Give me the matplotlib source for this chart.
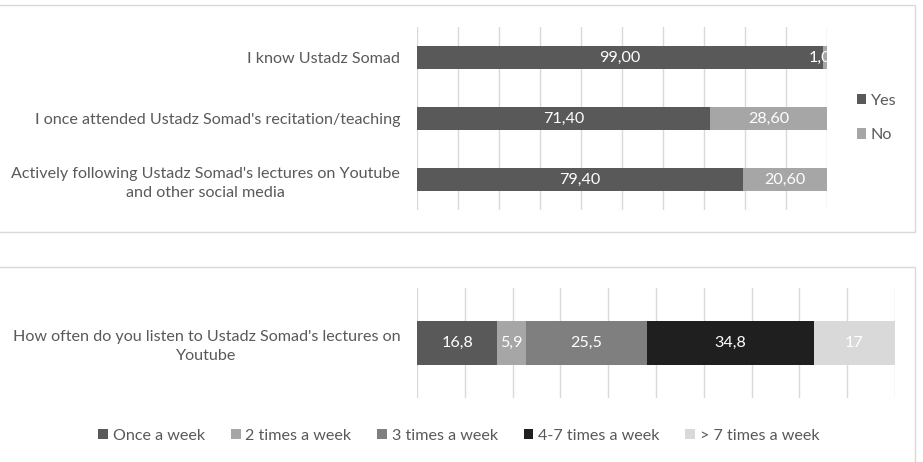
import matplotlib.pyplot as plt
from matplotlib.patches import Rectangle

# ---- data ----
top_questions = ["I know Ustadz Somad",
                 "I once attended Ustadz Somad's recitation/teaching",
                 "Actively following Ustadz Somad's lectures on Youtube\nand other social media"]
yes_values = [99.00, 71.40, 79.40]
no_values = [1.00, 28.60, 20.60]

freq_question = ["How often do you listen to Ustadz Somad's lectures on\nYoutube"]
freq_labels = ["Once a week", "2 times a week", "3 times a week",
               "4-7 times a week", "> 7 times a week"]
freq_values = [16.8, 5.9, 25.5, 34.8, 17]
freq_text = ["16,8", "5,9", "25,5", "34,8", "17"]

freq_colors = ["#595959", "#a6a6a6", "#7f7f7f", "#1f1f1f", "#d9d9d9"]
yes_color, no_color = "#595959", "#a6a6a6"
text_col = "#595959"
grid_col = "#d9d9d9"

plt.rcParams['font.family'] = ['Lato', 'DejaVu Sans']
FS = 11.6

W, H = 923, 462
fig = plt.figure(figsize=(W / 100, H / 100), dpi=100)


def px_axes(x0, y0, x1, y1):
    return fig.add_axes([x0 / W, 1 - y1 / H, (x1 - x0) / W, (y1 - y0) / H])


def style(ax):
    ax.set_xlim(0, 100)
    ax.set_xticks(range(0, 101, 10))
    ax.xaxis.grid(True, color=grid_col, linewidth=1)
    ax.set_axisbelow(True)
    ax.tick_params(length=0, labelbottom=False)
    for s in ax.spines.values():
        s.set_visible(False)


# panel frames
fig.patches.append(Rectangle((-5 / W, 1 - 232 / H), 920 / W, 227 / H,
                             transform=fig.transFigure, fill=False,
                             edgecolor="#d9d9d9", linewidth=1))
fig.patches.append(Rectangle((-5 / W, -10 / H), 920 / W, (1 - 267 / H) + 10 / H,
                             transform=fig.transFigure, fill=False,
                             edgecolor="#d9d9d9", linewidth=1))

# ---- top chart ----
ax1 = px_axes(417, 27, 827, 210)
style(ax1)
ypos = range(len(top_questions))
b_yes = ax1.barh(ypos, yes_values, height=0.39, color=yes_color, label="Yes")
b_no = ax1.barh(ypos, no_values, left=yes_values, height=0.39,
                color=no_color, label="No")
ax1.set_ylim(2.5, -0.5)
ax1.set_yticks(list(ypos))
ax1.set_yticklabels(top_questions, fontsize=FS, color=text_col)
for lab in ax1.get_yticklabels():
    lab.set_multialignment('center')
    lab.set_linespacing(1.45)
ax1.tick_params(axis='y', pad=12)
for i, (y, n) in enumerate(zip(yes_values, no_values)):
    ax1.text(y / 2, i, f"{y:.2f}".replace('.', ','), ha='center', va='center',
             color='white', fontsize=FS)
    ax1.text(y + n / 2, i, f"{n:.2f}".replace('.', ','), ha='center',
             va='center', color='white', fontsize=FS, clip_on=True)
fig.legend(handles=[b_yes, b_no], labels=["Yes", "No"],
           loc='center left', bbox_to_anchor=(842 / W, 1 - 118 / H),
           frameon=False, fontsize=FS, labelcolor=text_col,
           handlelength=0.6, handleheight=0.6, handletextpad=0.3,
           labelspacing=1.25)

# ---- bottom chart ----
ax2 = px_axes(417, 288, 895, 398)
style(ax2)
left = 0
handles = []
for v, t, c, lab in zip(freq_values, freq_text, freq_colors, freq_labels):
    h = ax2.barh(0, v, left=left, height=0.4, color=c, label=lab)
    handles.append(h)
    ax2.text(left + v / 2, 0, t, ha='center', va='center', color='white',
             fontsize=FS)
    left += v
ax2.set_ylim(0.5, -0.5)
ax2.set_yticks([0])
ax2.set_yticklabels(freq_question, fontsize=FS, color=text_col)
for lab in ax2.get_yticklabels():
    lab.set_multialignment('center')
    lab.set_linespacing(1.45)
ax2.tick_params(axis='y', pad=12)
fig.legend(handles=handles, labels=freq_labels, loc='center',
           bbox_to_anchor=(459 / W, 1 - 436 / H), ncol=5, frameon=False,
           fontsize=FS, labelcolor=text_col, handlelength=0.6,
           handleheight=0.6, handletextpad=0.3, columnspacing=1.6)

fig.savefig("out.png", dpi=100)
